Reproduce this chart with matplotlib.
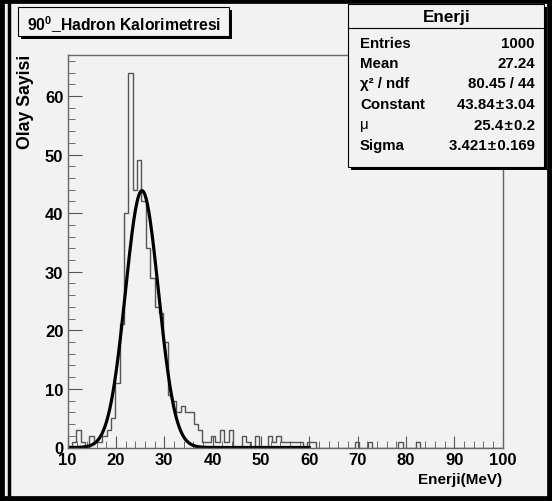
import numpy as np
import matplotlib
matplotlib.use('Agg')
import matplotlib.pyplot as plt
from matplotlib.patches import Rectangle
from matplotlib.lines import Line2D

# histogram contents, 100 bins between 10 and 100 MeV
counts = [0, 1, 3, 1, 0, 2, 1, 1, 2, 3,
          5, 11, 21, 40, 64, 44, 49, 42, 34, 29,
          24, 23, 18, 9, 8, 6, 7, 6, 6, 4,
          3, 1, 1, 2, 1, 3, 1, 3, 0, 0,
          2, 1, 0, 2, 0, 0, 2, 1, 2, 1,
          1, 1, 1, 1, 0, 1, 1, 0, 0, 0,
          0, 0, 0, 0, 0, 0, 1, 0, 0, 1,
          0, 0, 0, 0, 0, 0, 1, 0, 0, 0,
          1, 0, 0, 0, 0, 0, 0, 0, 0, 0,
          0, 0, 0, 0, 0, 0, 0, 0, 0, 0]
x_min, x_max = 10, 100

# gaussian fit result (from the stats box)
fit_const, fit_mean, fit_sigma = 43.84, 25.4, 3.421
fit_lo, fit_hi = 10, 60

title = r'90$^{\mathbf{0}}$_Hadron Kalorimetresi'
hist_name = 'Enerji'
hs = '\u200a'
stats_labels = ['Entries', 'Mean', 'χ² / ndf', 'Constant', 'μ', 'Sigma']
stats_values = ['1000', '27.24', '80.45 / 44',
                f'43.84{hs}±{hs}3.04', f'25.4{hs}±{hs}0.2', f'3.421{hs}±{hs}0.169']
xticks = [10, 20, 30, 40, 50, 60, 70, 80, 90, 100]
yticks = [0, 10, 20, 30, 40, 50, 60]

plt.rcParams['font.family'] = ['Liberation Sans', 'DejaVu Sans']
plt.rcParams['font.weight'] = 'bold'
plt.rcParams['mathtext.fontset'] = 'custom'
plt.rcParams['mathtext.bf'] = 'Liberation Sans:bold'
plt.rcParams['mathtext.rm'] = 'Liberation Sans:bold'

W, H = 552, 502
bg = '#f2f2f2'


def fx(px):
    return px / W


def fy(py):
    return 1 - py / H


fig = plt.figure(figsize=(W / 100, H / 100), dpi=100, facecolor=bg)

# frame
ax = fig.add_axes([fx(67.5), fy(448.5), fx(502.7) - fx(67.5), fy(56) - fy(448.5)])
ax.set_facecolor(bg)
edges = np.linspace(x_min, x_max, len(counts) + 1)
ax.stairs(counts, edges, color='#555555', lw=1)

xf = np.linspace(fit_lo, fit_hi, 500)
yf = fit_const * np.exp(-0.5 * ((xf - fit_mean) / fit_sigma) ** 2)
ax.plot(xf, yf, color='black', lw=2.3)

ax.set_xlim(x_min, x_max)
ax.set_ylim(0, 67)
ax.set_xticks(xticks)
ax.set_xticks(np.arange(10, 101, 2), minor=True)
ax.set_yticks(yticks)
ax.set_yticks(np.arange(0, 67, 2), minor=True)
ax.tick_params(axis='both', which='both', direction='in', color='#555555', labelsize=12, pad=3)
ax.tick_params(axis='y', which='major', length=10)
ax.tick_params(axis='y', which='minor', length=5)
ax.tick_params(axis='x', which='major', length=8.6)
ax.tick_params(axis='x', which='minor', length=4.8)
for s in ax.spines.values():
    s.set_color('#666666')
    s.set_linewidth(1)

fig.text(fx(25), fy(55), 'Olay Sayisi', rotation=90, ha='center', va='top', fontsize=12.7)
fig.text(fx(502), fy(480), 'Enerji(MeV)', ha='right', va='center', fontsize=11)

# title box
tr = fig.transFigure
fig.add_artist(Rectangle((fx(21), fy(40)), fx(232) - fx(21), fy(11) - fy(40), transform=tr,
                         facecolor='black', edgecolor='none'))
fig.add_artist(Rectangle((fx(18), fy(37)), fx(229) - fx(18), fy(8) - fy(37), transform=tr,
                         facecolor=bg, edgecolor='black', lw=0.8))
fig.text(fx(27), fy(25), title, ha='left', va='center', fontsize=11.3)

# stats box
fig.add_artist(Rectangle((fx(351), fy(171)), fx(547) - fx(351), fy(8) - fy(171), transform=tr,
                         facecolor='black', edgecolor='none'))
fig.add_artist(Rectangle((fx(348), fy(168)), fx(544) - fx(348), fy(5) - fy(168), transform=tr,
                         facecolor=bg, edgecolor='black', lw=0.8))
fig.add_artist(Line2D([fx(348), fx(544)], [fy(28.5), fy(28.5)], transform=tr, color='black', lw=0.8))
fig.text(fx(447), fy(17.5), hist_name, ha='center', va='center', fontsize=12.3)
for k, (lab, val) in enumerate(zip(stats_labels, stats_values)):
    yy = fy(43.5 + 20.5 * k)
    w = 'normal' if lab == 'μ' else 'bold'
    fig.text(fx(360), yy, lab, ha='left', va='center', fontsize=10.8, fontweight=w)
    fig.text(fx(535), yy, val, ha='right', va='center', fontsize=10.8)

# canvas border
fig.add_artist(Rectangle((0, 0), 1, 1, transform=tr, fill=False, edgecolor='black', lw=7))
fig.add_artist(Line2D([fx(9), fx(9)], [0, 1], transform=tr, color='black', lw=2.5))

fig.savefig('out.png', dpi=100, facecolor=bg)
